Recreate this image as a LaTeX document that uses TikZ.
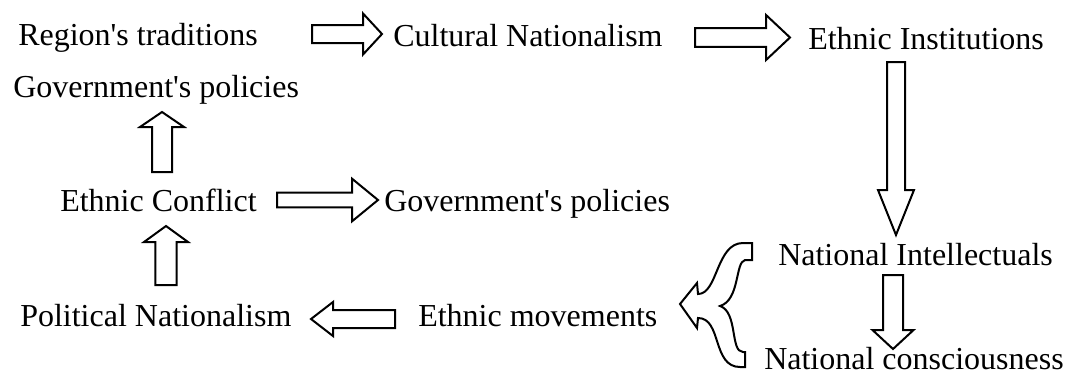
\documentclass[tikz,border=0pt]{standalone}
\usepackage{fontspec}
\setmainfont{Liberation Serif}
\usetikzlibrary{calc}
\tikzset{
	lbl/.style={font=\fontsize{24}{28}\selectfont,inner sep=0pt,anchor=base west},
	fat/.style={draw=black,fill=white,line width=1.5pt,line join=miter}
}
% block arrow: start, end, half body, half head, head length
\newcommand{\fatarrow}[5]{%
	\coordinate (hb) at ($(#2)!#5!(#1)$);
	\draw[fat] ($(#1)!#3!90:(#2)$) -- ($(hb)!#3!90:(#2)$) -- ($(hb)!#4!90:(#2)$) -- (#2)
		-- ($(hb)!#4!-90:(#2)$) -- ($(hb)!#3!-90:(#2)$) -- ($(#1)!#3!-90:(#2)$) -- cycle;
}
\newcommand{\ap}{\textquotesingle}
\begin{document}
\begin{tikzpicture}[x=0.75pt,y=-0.75pt]
		\useasboundingbox (0,0) rectangle (1066,376);
		\node[lbl] (R) at (18,45) {Region\ap s traditions};
		\node[lbl] (C) at (393,46) {Cultural Nationalism};
		\node[lbl] (E) at (808,49) {Ethnic Institutions};
		\node[lbl] (G1) at (13,97) {Government\ap s policies};
		\node[lbl] (K) at (60,211) {Ethnic Conflict};
		\node[lbl] (G2) at (384,211) {Government\ap s policies};
		\node[lbl] (P) at (20,326) {Political Nationalism};
		\node[lbl] (M) at (418,326) {Ethnic movements};
		\node[lbl] (I) at (778,265) {National Intellectuals};
		\node[lbl] (N) at (764,369) {National consciousness};
		\coordinate (RC1) at (312,34);
		\coordinate (RC2) at (382,34);
		\coordinate (CE1) at (695,37.5);
		\coordinate (CE2) at (790,37.5);
		\coordinate (EI1) at (896,62);
		\coordinate (EI2) at (896,235);
		\coordinate (KG1) at (162,172);
		\coordinate (KG2) at (162,112);
		\coordinate (PK1) at (166,285);
		\coordinate (PK2) at (166,226);
		\coordinate (KG3) at (277,200);
		\coordinate (KG4) at (378,200);
		\coordinate (MP1) at (395,319);
		\coordinate (MP2) at (311,319);
		\coordinate (IN1) at (893,275);
		\coordinate (IN2) at (893,349);
		\fatarrow{RC1}{RC2}{6.75pt}{15.4pt}{14.25pt}
		\fatarrow{CE1}{CE2}{7.1pt}{16.9pt}{18pt}
		\fatarrow{EI1}{EI2}{6.75pt}{13.5pt}{33.75pt}
		\fatarrow{KG1}{KG2}{7.5pt}{16.5pt}{11.25pt}
		\fatarrow{PK1}{PK2}{7.9pt}{16.5pt}{12pt}
		\fatarrow{KG3}{KG4}{5.6pt}{16pt}{19.5pt}
		\fatarrow{MP1}{MP2}{6.75pt}{12.75pt}{16.5pt}
		\fatarrow{IN1}{IN2}{7.5pt}{15.4pt}{14.25pt}
		% forked arrow into Ethnic movements
		\draw[fat] (680,304) -- (697,283) -- (698,294) .. controls (718,294) and (716,243) .. (743,243)
			-- (752,243) -- (752,260) -- (745,260) .. controls (735,262) and (740,300) .. (720,306)
			.. controls (738,312) and (730,352) .. (743,352) -- (745,352) -- (745,367) -- (740,367)
			.. controls (712,367) and (722,318) .. (698,318) -- (697,328) -- cycle;
	\end{tikzpicture}
\end{document}
